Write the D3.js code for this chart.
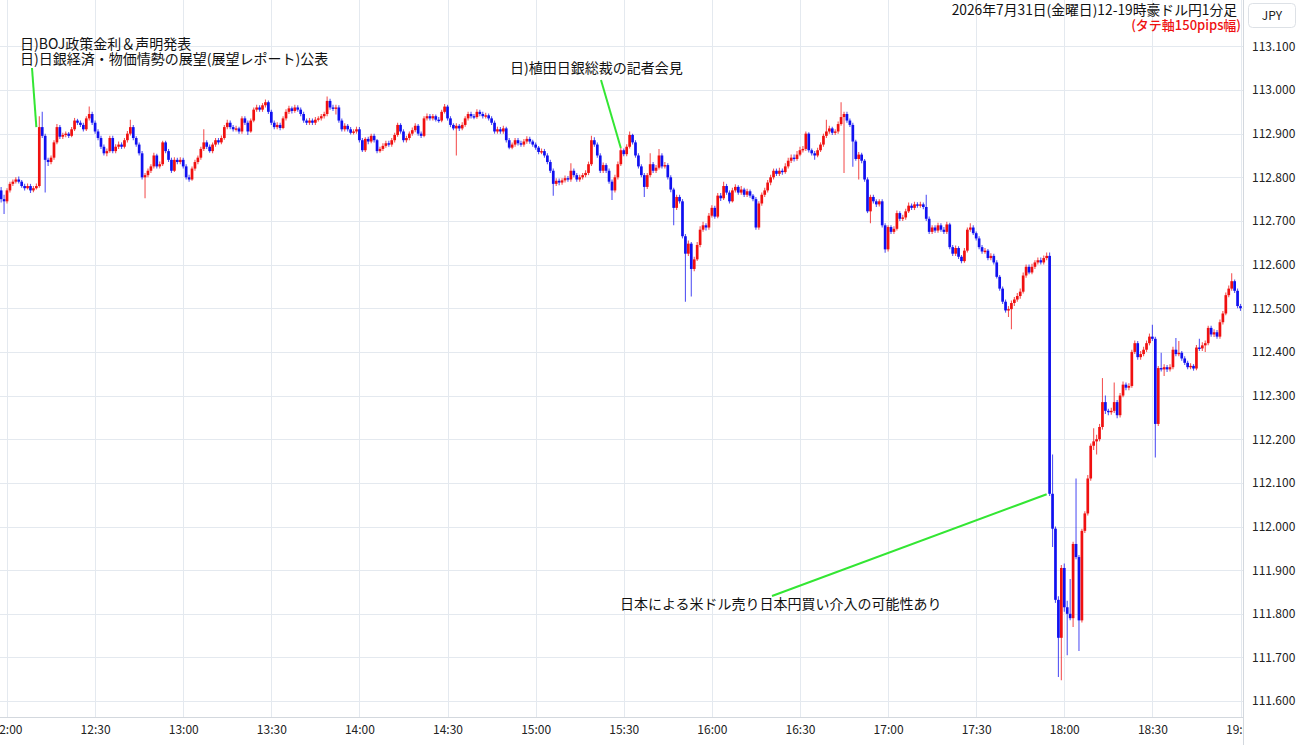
<!DOCTYPE html>
<html><head><meta charset="utf-8">
<script src="https://cdn.jsdelivr.net/npm/d3@7"></script>
<style>
html,body{margin:0;padding:0;background:#fff;}
svg{display:block;}
</style></head><body>
<svg id="chart" width="1300" height="745"></svg>
<script>
// ---------------- DATA ----------------
const firstCandle = [2026, 6, 31, 11, 58]; // 11:58, one candle per minute
const firstOpen = 112.770;
const closes = [
112.750,112.745,112.770,112.785,112.790,112.795,112.790,112.780,112.775,112.780,
112.770,112.775,112.780,112.915,112.895,112.840,112.835,112.845,112.880,112.915,
112.893,112.897,112.900,112.895,112.910,112.930,112.925,112.920,112.910,112.935,
112.945,112.925,112.905,112.890,112.870,112.855,112.860,112.890,112.860,112.870,
112.875,112.870,112.885,112.900,112.915,112.890,112.875,112.855,112.800,112.805,
112.815,112.825,112.850,112.825,112.830,112.880,112.860,112.840,112.815,112.840,
112.835,112.840,112.825,112.800,112.795,112.820,112.835,112.845,112.865,112.880,
112.870,112.860,112.875,112.885,112.880,112.890,112.915,112.925,112.915,112.910,
112.912,112.905,112.935,112.925,112.905,112.930,112.955,112.960,112.955,112.965,
112.972,112.950,112.925,112.915,112.920,112.913,112.935,112.950,112.958,112.952,
112.960,112.955,112.945,112.930,112.925,112.930,112.925,112.932,112.935,112.940,
112.945,112.975,112.960,112.958,112.960,112.930,112.910,112.918,112.910,112.902,
112.905,112.910,112.885,112.862,112.888,112.882,112.895,112.885,112.860,112.865,
112.872,112.878,112.875,112.885,112.897,112.920,112.905,112.885,112.890,112.900,
112.908,112.918,112.900,112.895,112.935,112.940,112.935,112.940,112.932,112.930,
112.950,112.962,112.935,112.920,112.912,112.918,112.912,112.920,112.935,112.945,
112.940,112.938,112.950,112.945,112.940,112.942,112.935,112.925,112.905,112.910,
112.905,112.912,112.885,112.868,112.875,112.885,112.878,112.875,112.882,112.888,
112.882,112.875,112.868,112.858,112.860,112.850,112.835,112.815,112.785,112.792,
112.788,112.793,112.798,112.795,112.815,112.805,112.795,112.800,112.805,112.810,
112.830,112.885,112.875,112.850,112.815,112.828,112.815,112.790,112.770,112.800,
112.830,112.862,112.853,112.870,112.897,112.880,112.850,112.825,112.805,112.778,
112.805,112.830,112.815,112.822,112.850,112.825,112.828,112.800,112.772,112.730,
112.755,112.745,112.665,112.625,112.648,112.590,112.612,112.645,112.680,112.690,
112.685,112.712,112.730,112.710,112.758,112.752,112.780,112.765,112.745,112.770,
112.778,112.765,112.772,112.760,112.768,112.758,112.750,112.685,112.740,112.760,
112.770,112.788,112.800,112.815,112.808,112.815,112.812,112.825,112.838,112.845,
112.842,112.852,112.862,112.865,112.900,112.862,112.855,112.850,112.862,112.875,
112.895,112.905,112.912,112.902,112.905,112.922,112.938,112.945,112.930,112.920,
112.882,112.842,112.852,112.838,112.795,112.722,112.755,112.745,112.738,112.745,
112.690,112.635,112.686,112.675,112.682,112.718,112.705,112.708,112.722,112.735,
112.730,112.738,112.735,112.738,112.732,112.705,112.675,112.685,112.678,112.690,
112.680,112.675,112.692,112.640,112.625,112.638,112.618,112.608,112.632,112.680,
112.685,112.672,112.660,112.640,112.630,112.632,112.615,112.620,112.605,112.572,
112.545,112.515,112.495,112.498,112.512,112.520,112.528,112.538,112.575,112.595,
112.582,112.595,112.605,112.610,112.605,112.615,112.620,112.075,111.995,111.832,
111.745,111.905,111.815,111.800,111.790,111.960,111.930,111.785,111.990,112.030,
112.110,112.185,112.195,112.200,112.228,112.285,112.265,112.262,112.265,112.285,
112.255,112.300,112.325,112.318,112.322,112.400,112.420,112.388,112.395,112.405,
112.420,112.435,112.430,112.235,112.363,112.360,112.365,112.360,112.365,112.405,
112.395,112.398,112.385,112.375,112.365,112.368,112.362,112.410,112.408,112.415,
112.420,112.455,112.440,112.445,112.435,112.468,112.488,112.530,112.545,112.562,
112.540,112.505,112.500
];
const highs = [
112.778,112.760,112.775,112.790,112.795,112.800,112.802,112.794,112.785,112.786,
112.785,112.780,112.786,112.940,112.950,112.900,112.845,112.850,112.885,112.922,
112.920,112.902,112.905,112.904,112.915,112.936,112.934,112.930,112.925,112.940,
112.962,112.950,112.930,112.910,112.895,112.875,112.866,112.895,112.895,112.876,
112.882,112.880,112.890,112.906,112.932,112.920,112.894,112.880,112.860,112.810,
112.820,112.830,112.856,112.854,112.836,112.884,112.884,112.865,112.845,112.846,
112.845,112.846,112.845,112.830,112.806,112.825,112.840,112.850,112.870,112.910,
112.885,112.875,112.880,112.890,112.890,112.896,112.920,112.932,112.930,112.920,
112.918,112.916,112.940,112.940,112.930,112.935,112.960,112.966,112.965,112.970,
112.978,112.976,112.955,112.930,112.926,112.925,112.940,112.956,112.964,112.962,
112.966,112.965,112.960,112.950,112.935,112.936,112.935,112.938,112.940,112.945,
112.950,112.985,112.980,112.966,112.966,112.965,112.935,112.924,112.922,112.915,
112.910,112.916,112.915,112.890,112.892,112.893,112.900,112.900,112.888,112.870,
112.878,112.884,112.884,112.890,112.902,112.925,112.924,112.910,112.895,112.905,
112.914,112.924,112.922,112.905,112.940,112.946,112.945,112.945,112.944,112.938,
112.955,112.968,112.966,112.940,112.924,112.924,112.922,112.926,112.940,112.950,
112.950,112.945,112.956,112.955,112.950,112.948,112.946,112.940,112.930,112.916,
112.915,112.918,112.916,112.890,112.880,112.890,112.890,112.884,112.888,112.894,
112.893,112.886,112.880,112.872,112.866,112.865,112.855,112.840,112.820,112.798,
112.797,112.798,112.804,112.803,112.832,112.820,112.810,112.806,112.810,112.816,
112.836,112.895,112.892,112.880,112.855,112.834,112.832,112.820,112.795,112.806,
112.836,112.868,112.866,112.876,112.905,112.900,112.885,112.855,112.830,112.810,
112.810,112.855,112.835,112.828,112.865,112.855,112.835,112.832,112.805,112.776,
112.760,112.760,112.750,112.670,112.655,112.652,112.618,112.652,112.688,112.698,
112.695,112.718,112.736,112.735,112.764,112.764,112.790,112.785,112.770,112.776,
112.784,112.782,112.780,112.776,112.774,112.772,112.762,112.755,112.745,112.765,
112.776,112.794,112.806,112.820,112.820,112.822,112.820,112.832,112.845,112.852,
112.852,112.860,112.870,112.872,112.905,112.903,112.866,112.860,112.868,112.880,
112.900,112.932,112.918,112.916,112.910,112.928,112.972,112.950,112.950,112.935,
112.925,112.886,112.858,112.856,112.842,112.800,112.760,112.760,112.750,112.750,
112.750,112.695,112.690,112.690,112.688,112.724,112.722,112.714,112.728,112.742,
112.740,112.744,112.743,112.744,112.742,112.760,112.710,112.690,112.690,112.696,
112.695,112.686,112.698,112.696,112.645,112.644,112.642,112.622,112.638,112.685,
112.695,112.690,112.676,112.665,112.645,112.638,112.636,112.626,112.625,112.610,
112.576,112.550,112.520,112.505,112.518,112.526,112.535,112.545,112.582,112.600,
112.600,112.602,112.610,112.616,112.616,112.621,112.628,112.628,112.165,112.000,
111.840,111.912,111.915,111.830,111.880,111.965,112.110,111.935,111.995,112.035,
112.118,112.190,112.225,112.210,112.235,112.340,112.300,112.270,112.272,112.330,
112.290,112.306,112.332,112.330,112.328,112.405,112.426,112.425,112.402,112.412,
112.426,112.442,112.462,112.435,112.368,112.398,112.372,112.370,112.372,112.412,
112.432,112.425,112.402,112.390,112.380,112.374,112.372,112.416,112.430,112.422,
112.426,112.460,112.460,112.452,112.450,112.474,112.494,112.536,112.552,112.580,
112.566,112.545,112.510
];
const lows = [
112.742,112.716,112.740,112.765,112.780,112.786,112.786,112.776,112.770,112.772,
112.764,112.766,112.772,112.776,112.890,112.765,112.826,112.830,112.840,112.876,
112.888,112.888,112.892,112.890,112.892,112.906,112.920,112.915,112.905,112.906,
112.930,112.920,112.900,112.885,112.865,112.850,112.848,112.856,112.855,112.855,
112.865,112.865,112.866,112.880,112.896,112.885,112.870,112.850,112.795,112.752,
112.800,112.810,112.820,112.820,112.820,112.826,112.855,112.835,112.810,112.812,
112.830,112.830,112.820,112.795,112.790,112.792,112.815,112.830,112.840,112.860,
112.865,112.856,112.855,112.870,112.875,112.876,112.886,112.910,112.910,112.905,
112.905,112.900,112.900,112.920,112.897,112.902,112.926,112.950,112.950,112.950,
112.960,112.945,112.920,112.910,112.910,112.908,112.910,112.930,112.945,112.946,
112.948,112.950,112.940,112.925,112.920,112.920,112.920,112.920,112.928,112.930,
112.935,112.940,112.955,112.952,112.944,112.925,112.905,112.905,112.905,112.898,
112.898,112.900,112.880,112.858,112.858,112.876,112.878,112.880,112.855,112.856,
112.860,112.868,112.870,112.870,112.880,112.893,112.900,112.880,112.880,112.885,
112.895,112.903,112.895,112.890,112.892,112.930,112.930,112.930,112.928,112.925,
112.926,112.946,112.930,112.915,112.908,112.850,112.906,112.908,112.916,112.930,
112.935,112.933,112.934,112.940,112.935,112.935,112.930,112.920,112.900,112.900,
112.900,112.900,112.880,112.864,112.864,112.870,112.873,112.870,112.870,112.877,
112.877,112.870,112.863,112.853,112.853,112.845,112.830,112.810,112.758,112.780,
112.782,112.783,112.788,112.790,112.790,112.800,112.790,112.790,112.795,112.800,
112.805,112.826,112.870,112.845,112.810,112.810,112.810,112.785,112.748,112.765,
112.795,112.826,112.848,112.848,112.866,112.875,112.845,112.820,112.800,112.755,
112.773,112.800,112.810,112.810,112.818,112.820,112.820,112.795,112.766,112.690,
112.725,112.740,112.660,112.515,112.620,112.527,112.585,112.608,112.640,112.675,
112.678,112.680,112.708,112.705,112.706,112.746,112.748,112.760,112.740,112.742,
112.765,112.760,112.760,112.755,112.755,112.753,112.745,112.680,112.680,112.735,
112.755,112.765,112.782,112.795,112.803,112.803,112.806,112.808,112.820,112.833,
112.836,112.838,112.848,112.857,112.860,112.857,112.850,112.840,112.846,112.858,
112.870,112.890,112.900,112.897,112.897,112.900,112.918,112.810,112.925,112.915,
112.824,112.838,112.795,112.832,112.790,112.718,112.695,112.740,112.732,112.733,
112.685,112.627,112.630,112.670,112.670,112.678,112.700,112.700,112.703,112.718,
112.725,112.725,112.730,112.730,112.727,112.700,112.670,112.670,112.673,112.673,
112.675,112.670,112.670,112.635,112.620,112.620,112.613,112.603,112.604,112.628,
112.675,112.668,112.655,112.635,112.625,112.625,112.610,112.610,112.600,112.568,
112.540,112.510,112.490,112.480,112.452,112.505,112.515,112.522,112.534,112.570,
112.578,112.578,112.590,112.600,112.600,112.600,112.610,112.070,111.953,111.825,
111.655,111.648,111.805,111.705,111.785,111.770,111.925,111.715,111.780,111.985,
112.025,112.105,112.175,112.165,112.195,112.222,112.258,112.255,112.256,112.260,
112.248,112.250,112.296,112.312,112.312,112.318,112.395,112.382,112.382,112.390,
112.400,112.415,112.425,112.158,112.230,112.355,112.345,112.354,112.355,112.360,
112.390,112.390,112.380,112.370,112.360,112.360,112.357,112.358,112.402,112.402,
112.400,112.415,112.435,112.434,112.430,112.430,112.463,112.484,112.525,112.540,
112.535,112.500,112.494
];
const yTickValues = [111.6,111.7,111.8,111.9,112.0,112.1,112.2,112.3,112.4,112.5,112.6,112.7,112.8,112.9,113.0,113.1];
const xTickLabels = ["12:00","12:30","13:00","13:30","14:00","14:30","15:00","15:30","16:00","16:30","17:00","17:30","18:00","18:30","19:00"];
const titleText = "2026年7月31日(金曜日)12-19時豪ドル円1分足";
const subtitleText = "(タテ軸150pips幅)";
const currencyLabel = "JPY";
const annotationTexts = [
  ["日)BOJ政策金利＆声明発表", "日)日銀経済・物価情勢の展望(展望レポート)公表"],
  ["日)植田日銀総裁の記者会見"],
  ["日本による米ドル売り日本円買い介入の可能性あり"]
];
const annotationTargets = [ ["12:10", 112.915], ["15:29", 112.867], ["17:54", 112.074] ];

// ---------------- LAYOUT ----------------
const W = 1300, H = 745, plotR = 1243, plotB = 717;
const svg = d3.select("#chart");
const day = (hm) => { const [h, m] = hm.split(":").map(Number); return new Date(2026, 6, 31, h, m); };
const t0 = new Date(...firstCandle);
const candles = closes.map((c, i) => ({
  t: d3.timeMinute.offset(t0, i),
  o: i === 0 ? firstOpen : closes[i - 1],
  h: highs[i], l: lows[i], c
}));

const x = d3.scaleTime().domain([day("12:00"), day("19:00")]).range([7, 1240.5]);
const y = d3.scaleLinear().domain([111.5636, 113.2062]).range([plotB, 0]);

const FONT = "'Noto Sans CJK JP','Noto Sans',sans-serif";

svg.append("rect").attr("width", W).attr("height", H).attr("fill", "#fff");
svg.append("defs").append("clipPath").attr("id", "plotclip")
  .append("rect").attr("x", 0).attr("y", 0).attr("width", plotR).attr("height", H);

// grid
const grid = svg.append("g");
grid.selectAll(".hg").data(yTickValues).join("line")
  .attr("x1", 0).attr("x2", plotR).attr("y1", d => Math.round(y(d)) + 0.5).attr("y2", d => Math.round(y(d)) + 0.5)
  .attr("stroke", "#e4e9ef").attr("stroke-width", 1);
grid.selectAll(".vg").data(xTickLabels.map(day)).join("line")
  .attr("y1", 0).attr("y2", plotB).attr("x1", d => Math.round(x(d)) + 0.5).attr("x2", d => Math.round(x(d)) + 0.5)
  .attr("stroke", "#e4e9ef").attr("stroke-width", 1);

// candles
const step = x(d3.timeMinute.offset(day("12:00"), 1)) - x(day("12:00"));
const bw = step * 0.92;
const cg = svg.append("g").attr("clip-path", "url(#plotclip)");
const upC = "#f01010", dnC = "#1010f0";
cg.selectAll(".wick").data(candles).join("line")
  .attr("x1", d => x(d.t)).attr("x2", d => x(d.t))
  .attr("y1", d => y(Math.max(d.h, d.o, d.c))).attr("y2", d => y(Math.min(d.l, d.o, d.c)))
  .attr("stroke", d => d.c >= d.o ? upC : dnC).attr("stroke-opacity", 0.7).attr("stroke-width", 1.1);
cg.selectAll(".body").data(candles).join("rect")
  .attr("x", d => x(d.t) - bw / 2).attr("width", bw)
  .attr("y", d => y(Math.max(d.o, d.c)))
  .attr("height", d => Math.max(1.4, Math.abs(y(d.o) - y(d.c))))
  .attr("fill", d => d.c >= d.o ? upC : dnC);

// axes borders
svg.append("line").attr("x1", plotR + 0.5).attr("x2", plotR + 0.5).attr("y1", 0).attr("y2", H).attr("stroke", "#d3d8de");
svg.append("line").attr("x1", 0).attr("x2", plotR).attr("y1", plotB + 0.5).attr("y2", plotB + 0.5).attr("stroke", "#d3d8de");

// y axis
const yAxis = svg.append("g").attr("transform", `translate(${plotR},0)`)
  .call(d3.axisRight(y).tickValues(yTickValues).tickFormat(d3.format(".3f")).tickSize(0).tickPadding(9));
yAxis.select(".domain").remove();
yAxis.selectAll("text").attr("font-family", FONT).attr("font-size", 12).attr("fill", "#222");

// x axis
const xAxis = svg.append("g").attr("transform", `translate(0,${plotB})`).attr("clip-path", "url(#plotclip)")
  .call(d3.axisBottom(x).tickValues(xTickLabels.map(day)).tickFormat(d3.timeFormat("%H:%M")).tickSize(0).tickPadding(8));
xAxis.select(".domain").remove();
xAxis.selectAll("text").attr("font-family", FONT).attr("font-size", 12).attr("fill", "#222");

// title
svg.append("text").attr("x", 1237).attr("y", 15).attr("text-anchor", "end")
  .attr("font-family", FONT).attr("font-size", 13.8).attr("fill", "#111").text(titleText);
svg.append("text").attr("x", 1241).attr("y", 30).attr("text-anchor", "end")
  .attr("font-family", FONT).attr("font-size", 13).attr("font-weight", 500).attr("fill", "#ee1111").text(subtitleText);

// JPY box
svg.append("rect").attr("x", 1248.5).attr("y", 3.5).attr("width", 47).attr("height", 24).attr("rx", 4)
  .attr("fill", "#fff").attr("stroke", "#dde1e6");
svg.append("text").attr("x", 1272).attr("y", 20).attr("text-anchor", "middle")
  .attr("font-family", FONT).attr("font-size", 12).attr("fill", "#222").text(currencyLabel);

// annotations
const annLayout = [
  { tx: 20, ty: 49, lx: 32, ly: 68 },
  { tx: 510, ty: 73, lx: 601, ly: 80 },
  { tx: 620, ty: 609, lx: 772, ly: 596 }
];
const ag = svg.append("g");
annotationTexts.forEach((lines, k) => {
  const L = annLayout[k];
  const [tm, pr] = annotationTargets[k];
  ag.append("line").attr("x1", L.lx).attr("y1", L.ly).attr("x2", x(day(tm))).attr("y2", y(pr))
    .attr("stroke", "#33e633").attr("stroke-width", 2);
  lines.forEach((s, j) => {
    ag.append("text").attr("x", L.tx).attr("y", L.ty + j * 15)
      .attr("font-family", FONT).attr("font-size", 14).attr("fill", "#111").text(s);
  });
});
</script>
</body></html>
